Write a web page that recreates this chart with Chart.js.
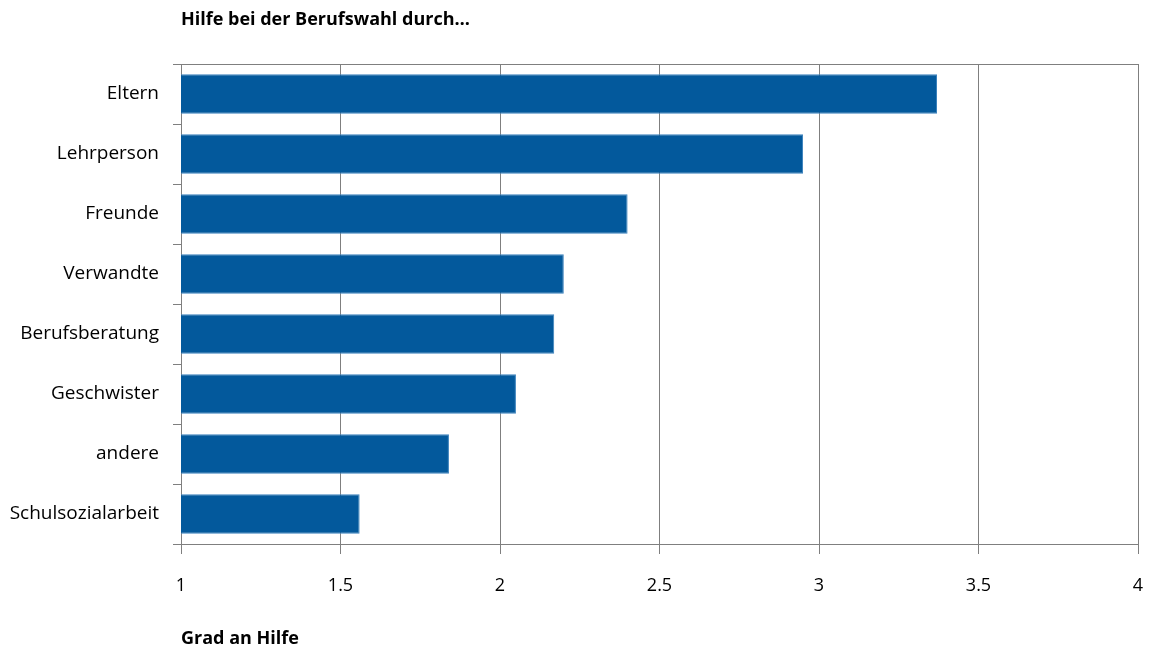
<!DOCTYPE html>
<html>
<head>
<meta charset="utf-8">
<script src="https://cdn.jsdelivr.net/npm/chart.js@4/dist/chart.umd.min.js"></script>
<style>
html,body{margin:0;padding:0;background:#fff;}
#wrap{width:1151px;height:650px;position:relative;}
</style>
</head>
<body>
<div id="wrap"><canvas id="c" width="1151" height="650"></canvas></div>
<script>
const categories = ["Eltern","Lehrperson","Freunde","Verwandte","Berufsberatung","Geschwister","andere","Schulsozialarbeit"];
const values = [3.37, 2.95, 2.40, 2.20, 2.17, 2.05, 1.84, 1.56];
const chartTitle = "Hilfe bei der Berufswahl durch…";
const xTitle = "Grad an Hilfe";
const FONT = "'Open Sans', sans-serif";
const GRID = "#7f7f7f";

const titlePlugin = {
  id: 'leftTitle',
  afterDraw(chart) {
    const ctx = chart.ctx;
    ctx.save();
    ctx.font = "bold 18px " + FONT;
    ctx.fillStyle = "#000";
    ctx.textBaseline = "middle";
    ctx.textAlign = "left";
    ctx.fillText(chartTitle, chart.chartArea.left, 20);
    ctx.restore();
  }
};

new Chart(document.getElementById('c'), {
  type: 'bar',
  data: {
    labels: categories,
    datasets: [{
      data: values,
      backgroundColor: "#03599c",
      borderColor: "#3b82bd",
      borderWidth: 1,
      barPercentage: 0.66,
      categoryPercentage: 1.0
    }]
  },
  options: {
    indexAxis: 'y',
    responsive: false,
    animation: false,
    layout: { padding: { top: 64, right: 13, left: 0, bottom: 0 } },
    plugins: { legend: { display: false }, tooltip: { enabled: false } },
    scales: {
      x: {
        min: 1, max: 4,
        ticks: { stepSize: 0.5, color: "#000", font: { family: FONT, size: 18 }, padding: 21,
                 callback: (v) => String(Number(v)) },
        grid: { color: GRID, lineWidth: 1, tickLength: 10, tickColor: GRID },
        border: { display: true, color: GRID },
        title: { display: true, text: xTitle, align: 'start', color: "#000",
                 font: { family: FONT, size: 18, weight: 'bold' }, padding: { top: 24, bottom: 0 } },
        afterFit(scale) { scale.height = 106; scale.paddingRight = 0; }
      },
      y: {
        offset: true,
        ticks: { color: "#000", font: { family: FONT, size: 19 }, padding: 14 },
        grid: {
          offset: true,
          drawOnChartArea: true,
          tickLength: 8,
          tickColor: GRID,
          color: (ctx) => (ctx.index === 0 || ctx.index === categories.length) ? GRID : 'rgba(0,0,0,0)'
        },
        border: { display: true, color: GRID },
        afterFit(scale) { scale.width = 181; }
      }
    }
  },
  plugins: [titlePlugin]
});
</script>
</body>
</html>
